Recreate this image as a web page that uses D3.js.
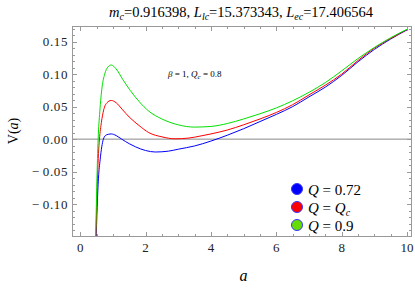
<!DOCTYPE html>
<html>
<head>
<meta charset="utf-8">
<script src="https://cdn.jsdelivr.net/npm/d3@7"></script>
<style>
  body { margin: 0; background: #fff; }
  text { font-family: "Liberation Serif", "Times New Roman", serif; }
</style>
</head>
<body>
<script>
var w = 415;
var h = 289;
var margin = {left: 72, right: 4, top: 26, bottom: 53};

// potential V(a)
var aBlue = [0.485, 0.52, 0.56, 0.61, 0.66, 0.71, 0.8, 0.95, 1.1, 1.27, 1.5, 1.7, 2.0, 2.3, 2.7, 3.0, 3.5, 4.0, 4.5, 5.0, 5.5, 6.0, 6.5, 7.0, 7.5, 8.0, 8.5, 9.0, 9.5, 10];
var vBlue = [-0.16, -0.105, -0.06, -0.032, -0.012, 0.0, 0.0065, 0.008, 0.0055, 0.0, -0.007, -0.012, -0.0175, -0.0198, -0.0185, -0.0155, -0.0105, -0.003, 0.006, 0.016, 0.027, 0.038, 0.05, 0.065, 0.08, 0.098, 0.119, 0.138, 0.154, 0.168];

var aRed = [0.475, 0.5, 0.53, 0.56, 0.59, 0.65, 0.72, 0.82, 0.95, 1.1, 1.3, 1.5, 1.8, 2.1, 2.5, 2.9, 3.3, 3.7, 4.0, 4.5, 5.0, 5.5, 6.0, 6.5, 7.0, 7.5, 8.0, 8.5, 9.0, 9.5, 10];
var vRed = [-0.16, -0.115, -0.06, -0.022, 0.0, 0.026, 0.045, 0.056, 0.0595, 0.056, 0.045, 0.034, 0.021, 0.01, 0.0035, 0.0005, 0.0015, 0.005, 0.008, 0.014, 0.022, 0.031, 0.041, 0.053, 0.068, 0.083, 0.1, 0.121, 0.14, 0.155, 0.1685];

var aGreen = [0.47, 0.5, 0.53, 0.55, 0.6, 0.67, 0.75, 0.85, 0.95, 1.1, 1.3, 1.53, 1.8, 2.1, 2.5, 3.0, 3.5, 4.0, 4.5, 5.0, 5.5, 6.0, 6.5, 7.0, 7.5, 8.0, 8.5, 9.0, 9.5, 10];
var vGreen = [-0.16, -0.09, -0.03, 0.0, 0.042, 0.08, 0.1, 0.111, 0.114, 0.108, 0.092, 0.075, 0.058, 0.043, 0.031, 0.022, 0.0185, 0.0195, 0.024, 0.031, 0.039, 0.048, 0.059, 0.072, 0.087, 0.105, 0.124, 0.141, 0.156, 0.169];

var seriesNames = ["Q = 0.72", "Q = Qc", "Q = 0.9"];
var seriesColors = ["#0000ff", "#ff0000", "#00e000"];
var legendFills = ["#0000ff", "#ff0000", "#66dd00"];

var xTicks = [0, 2, 4, 6, 8, 10];
var yTicks = [-0.10, -0.05, 0.00, 0.05, 0.10, 0.15];

var xScale = d3.scaleLinear().domain([-0.25, 10.12]).range([margin.left, w - margin.right]);
var yScale = d3.scaleLinear().domain([-0.149, 0.174]).range([h - margin.bottom, margin.top]);

var svg = d3.select("body").append("svg")
  .attr("width", w)
  .attr("height", h);

var x0 = xScale.range()[0], x1 = xScale.range()[1];
var y0 = yScale.range()[0], y1 = yScale.range()[1];

svg.append("clipPath").attr("id", "clip")
  .append("rect")
  .attr("x", x0).attr("y", y1)
  .attr("width", x1 - x0).attr("height", y0 - y1);

// zero line
svg.append("line")
  .attr("x1", x0).attr("x2", x1)
  .attr("y1", yScale(0)).attr("y2", yScale(0))
  .attr("stroke", "#888").attr("stroke-width", 1);

var line = d3.line()
  .x(function(d) { return xScale(d[0]); })
  .y(function(d) { return yScale(d[1]); })
  .curve(d3.curveMonotoneX);

var series = [
  d3.zip(aBlue, vBlue),
  d3.zip(aRed, vRed),
  d3.zip(aGreen, vGreen)
];

svg.append("g").attr("clip-path", "url(#clip)")
  .selectAll("path")
  .data(series)
  .enter()
  .append("path")
  .attr("d", line)
  .attr("fill", "none")
  .attr("stroke", function(d, i) { return seriesColors[i]; })
  .attr("stroke-width", 1);

// frame with Mathematica-style ticks
var frame = svg.append("g").attr("stroke", "#999").attr("stroke-width", 1).attr("shape-rendering", "crispEdges");
frame.append("rect")
  .attr("x", x0).attr("y", y1)
  .attr("width", x1 - x0).attr("height", y0 - y1)
  .attr("fill", "none");

var xMinor = d3.range(0, 10.01, 0.5);
xMinor.forEach(function(v) {
  var major = Math.abs(v / 2 - Math.round(v / 2)) < 1e-6;
  var len = major ? 4.5 : 2.5;
  var px = Math.round(xScale(v)) + 0.5;
  frame.append("line").attr("x1", px).attr("x2", px).attr("y1", y0).attr("y2", y0 - len);
  frame.append("line").attr("x1", px).attr("x2", px).attr("y1", y1).attr("y2", y1 + len);
});

var yMinor = d3.range(-14, 18).map(function(k) { return k / 100; });
yMinor.forEach(function(v) {
  var major = Math.abs(v * 20 - Math.round(v * 20)) < 1e-6;
  var len = major ? 4.5 : 2.5;
  var py = Math.round(yScale(v)) + 0.5;
  frame.append("line").attr("x1", x0).attr("x2", x0 + len).attr("y1", py).attr("y2", py);
  frame.append("line").attr("x1", x1).attr("x2", x1 - len).attr("y1", py).attr("y2", py);
});

// tick labels
svg.append("g").selectAll("text")
  .data(xTicks)
  .enter()
  .append("text")
  .attr("x", function(d) { return xScale(d); })
  .attr("y", y0 + 16)
  .attr("text-anchor", "middle")
  .attr("font-size", 13)
  .attr("fill", "#222")
  .text(function(d) { return d; });

svg.append("g").selectAll("text")
  .data(yTicks)
  .enter()
  .append("text")
  .attr("x", x0 - 4)
  .attr("y", function(d) { return yScale(d) + 4.5; })
  .attr("text-anchor", "end")
  .attr("font-size", 13)
  .attr("letter-spacing", 0.6)
  .attr("fill", "#222")
  .text(function(d) { return (d < 0 ? "\u2212\u2009" : "") + Math.abs(d).toFixed(2); });

// axis labels
svg.append("text")
  .attr("x", xScale(5))
  .attr("y", 281)
  .attr("text-anchor", "middle")
  .attr("font-size", 16)
  .attr("font-style", "italic")
  .text("a");

var yl = svg.append("text")
  .attr("transform", "translate(18," + ((y0 + y1) / 2) + ") rotate(-90)")
  .attr("text-anchor", "middle")
  .attr("font-size", 14);
yl.append("tspan").text("V(");
yl.append("tspan").attr("font-style", "italic").text("a");
yl.append("tspan").text(")");

// title
var title = svg.append("text")
  .attr("x", 241)
  .attr("y", 17)
  .attr("text-anchor", "middle")
  .attr("font-size", 14.5);
function sub(t, s) {
  title.append("tspan").attr("font-style", "italic").text(t);
  title.append("tspan").attr("font-style", "italic").attr("font-size", 10).attr("dy", 3).text(s);
}
sub("m", "c");
title.append("tspan").attr("dy", -3).text("=0.916398, ");
sub("L", "lc");
title.append("tspan").attr("dy", -3).text("=15.373343, ");
sub("L", "ec");
title.append("tspan").attr("dy", -3).text("=17.406564");

// annotation
var note = svg.append("text")
  .attr("x", 168)
  .attr("y", 77)
  .attr("font-size", 9);
note.append("tspan").attr("font-style", "italic").text("\u03b2");
note.append("tspan").text(" = 1, ");
note.append("tspan").attr("font-style", "italic").text("Q");
note.append("tspan").attr("font-style", "italic").attr("font-size", 7).attr("dy", 2).text("c");
note.append("tspan").attr("dy", -2).text(" = 0.8");

// legend
var lg = svg.append("g");
var ly = [193, 211, 229];
seriesNames.forEach(function(name, i) {
  lg.append("circle")
    .attr("cx", 297).attr("cy", ly[i] - 4)
    .attr("r", 5.5)
    .attr("fill", legendFills[i])
    .attr("stroke", "#3333ff")
    .attr("stroke-width", 1);
  var t = lg.append("text")
    .attr("x", 308).attr("y", ly[i] + 2)
    .attr("font-size", 15);
  t.append("tspan").attr("font-style", "italic").text("Q");
  t.append("tspan").text(" = ");
  if (i === 1) {
    t.append("tspan").attr("font-style", "italic").text("Q");
    t.append("tspan").attr("font-style", "italic").attr("font-size", 10).attr("dy", 3).text("c");
  } else {
    t.append("tspan").text(name.split("= ")[1]);
  }
});
</script>
</body>
</html>
